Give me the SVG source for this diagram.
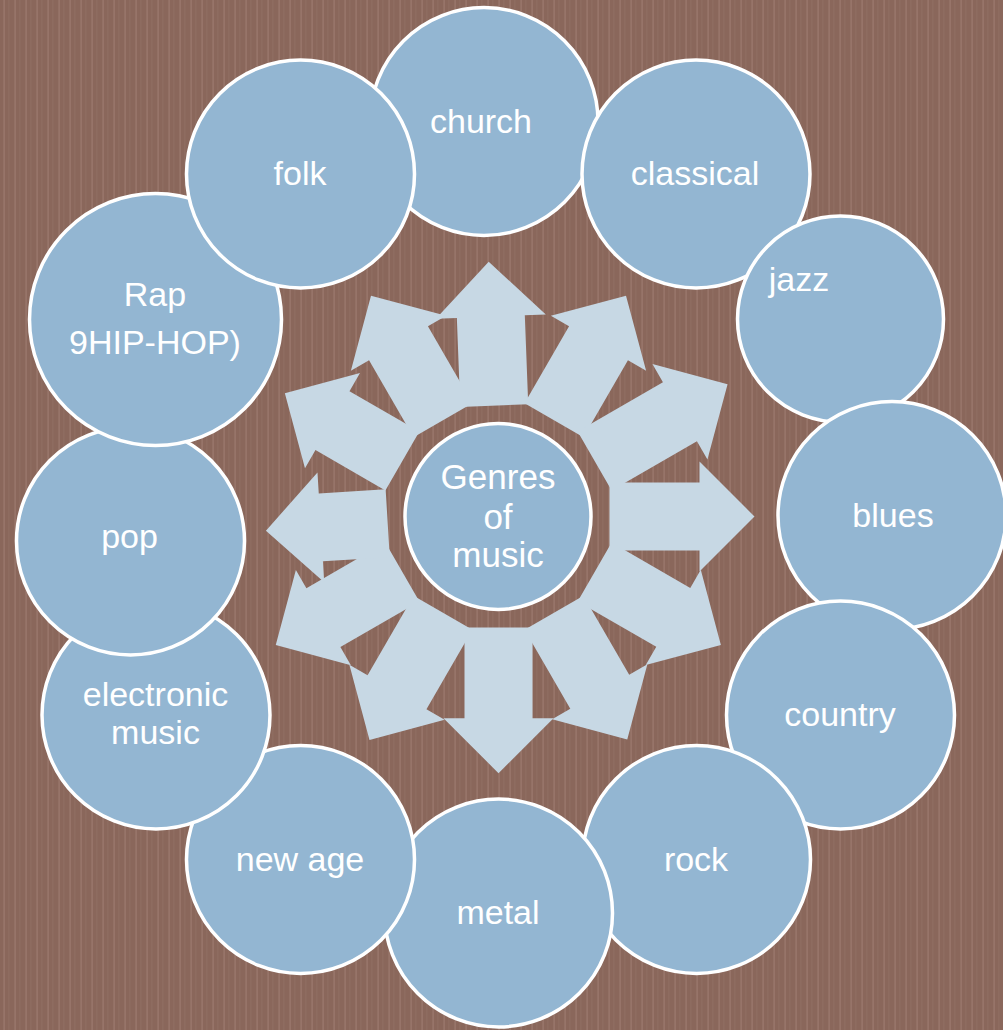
<svg xmlns="http://www.w3.org/2000/svg" width="1003" height="1030" viewBox="0 0 1003 1030">
  <defs>
    <pattern id="stripes" x="0" y="0" width="11" height="20" patternUnits="userSpaceOnUse">
      <rect x="0" y="0" width="11" height="20" fill="#8a675b"/>
      <rect x="3.5" y="0" width="1.2" height="20" fill="#9c7a6f"/>
      <rect x="8.5" y="0" width="0.8" height="20" fill="#927064"/>
    </pattern>
    <style>
      .node { fill: #93b6d2; stroke: #ffffff; stroke-width: 3.5; }
      .arrow { fill: #c7d8e4; stroke: none; }
      .label { font-family: "Liberation Sans", Arial, sans-serif; font-size: 34px; fill: #ffffff; text-anchor: middle; }
      .center-label { font-size: 35px; }
    </style>
  </defs>

  <rect id="background" x="0" y="0" width="1003" height="1030" fill="url(#stripes)"/>

  <g id="connectors" transform="translate(498.5,516.5)">
    <polygon class="arrow" transform="rotate(-2.2)" points="-34,-111 -34,-200 -55,-200 0,-255 55,-200 34,-200 34,-111"/>
    <polygon class="arrow" transform="rotate(30)" points="-34,-111 -34,-200 -55,-200 0,-255 55,-200 34,-200 34,-111"/>
    <polygon class="arrow" transform="rotate(60)" points="-34,-111 -34,-209.5 -55,-209.5 0,-264.5 55,-209.5 34,-209.5 34,-111"/>
    <polygon class="arrow" transform="rotate(90)" points="-34,-111 -34,-201 -55,-201 0,-256 55,-201 34,-201 34,-111"/>
    <polygon class="arrow" transform="rotate(120)" points="-34,-111 -34,-201.8 -55,-201.8 0,-256.8 55,-201.8 34,-201.8 34,-111"/>
    <polygon class="arrow" transform="rotate(150)" points="-34,-111 -34,-202.5 -55,-202.5 0,-257.5 55,-202.5 34,-202.5 34,-111"/>
    <polygon class="arrow" transform="rotate(180)" points="-34,-111 -34,-201.7 -55,-201.7 0,-256.7 55,-201.7 34,-201.7 34,-111"/>
    <polygon class="arrow" transform="rotate(210)" points="-34,-111 -34,-203 -55,-203 0,-258 55,-203 34,-203 34,-111"/>
    <polygon class="arrow" transform="rotate(240)" points="-34,-111 -34,-202.2 -55,-202.2 0,-257.2 55,-202.2 34,-202.2 34,-111"/>
    <polygon class="arrow" transform="rotate(266.5)" points="-34,-111 -34,-178 -55,-178 0,-233 55,-178 34,-178 34,-111"/>
    <polygon class="arrow" transform="rotate(300)" points="-34,-111 -34,-191.7 -55,-191.7 0,-246.7 55,-191.7 34,-191.7 34,-111"/>
    <polygon class="arrow" transform="rotate(330)" points="-34,-111 -34,-200 -55,-200 0,-255 55,-200 34,-200 34,-111"/>
  </g>

  <g id="node-center">
    <circle class="node" cx="498" cy="516.5" r="93"/>
    <text class="label center-label" x="498" y="488.5">Genres</text>
    <text class="label center-label" x="498" y="528.5">of</text>
    <text class="label center-label" x="498" y="567">music</text>
  </g>

  <g id="node-church">
    <circle class="node" cx="484" cy="121.5" r="114"/>
    <text class="label" x="481" y="133">church</text>
  </g>
  <g id="node-classical">
    <circle class="node" cx="696" cy="174" r="114"/>
    <text class="label" x="695" y="185">classical</text>
  </g>
  <g id="node-jazz">
    <circle class="node" cx="840.5" cy="319" r="103"/>
    <text class="label" x="799" y="291">jazz</text>
  </g>
  <g id="node-blues">
    <circle class="node" cx="892" cy="515.5" r="114"/>
    <text class="label" x="893" y="527">blues</text>
  </g>
  <g id="node-country">
    <circle class="node" cx="840.5" cy="715" r="114"/>
    <text class="label" x="840" y="726">country</text>
  </g>
  <g id="node-rock">
    <circle class="node" cx="696.5" cy="859.5" r="114"/>
    <text class="label" x="696" y="870.5">rock</text>
  </g>
  <g id="node-metal">
    <circle class="node" cx="498.5" cy="913" r="114"/>
    <text class="label" x="498" y="924">metal</text>
  </g>
  <g id="node-new-age">
    <circle class="node" cx="300.5" cy="859.5" r="114"/>
    <text class="label" x="300" y="871">new age</text>
  </g>
  <g id="node-electronic">
    <circle class="node" cx="156" cy="715" r="114"/>
    <text class="label" x="155.5" y="706">electronic</text>
    <text class="label" x="155.5" y="744">music</text>
  </g>
  <g id="node-pop">
    <circle class="node" cx="130.5" cy="541" r="114"/>
    <text class="label" x="129.5" y="548">pop</text>
  </g>
  <g id="node-rap">
    <circle class="node" cx="155.5" cy="319.5" r="126"/>
    <text class="label" x="155" y="305.5">Rap</text>
    <text class="label" x="155" y="354">9HIP-HOP)</text>
  </g>
  <g id="node-folk">
    <circle class="node" cx="300.5" cy="174" r="114"/>
    <text class="label" x="300" y="185">folk</text>
  </g>
</svg>
